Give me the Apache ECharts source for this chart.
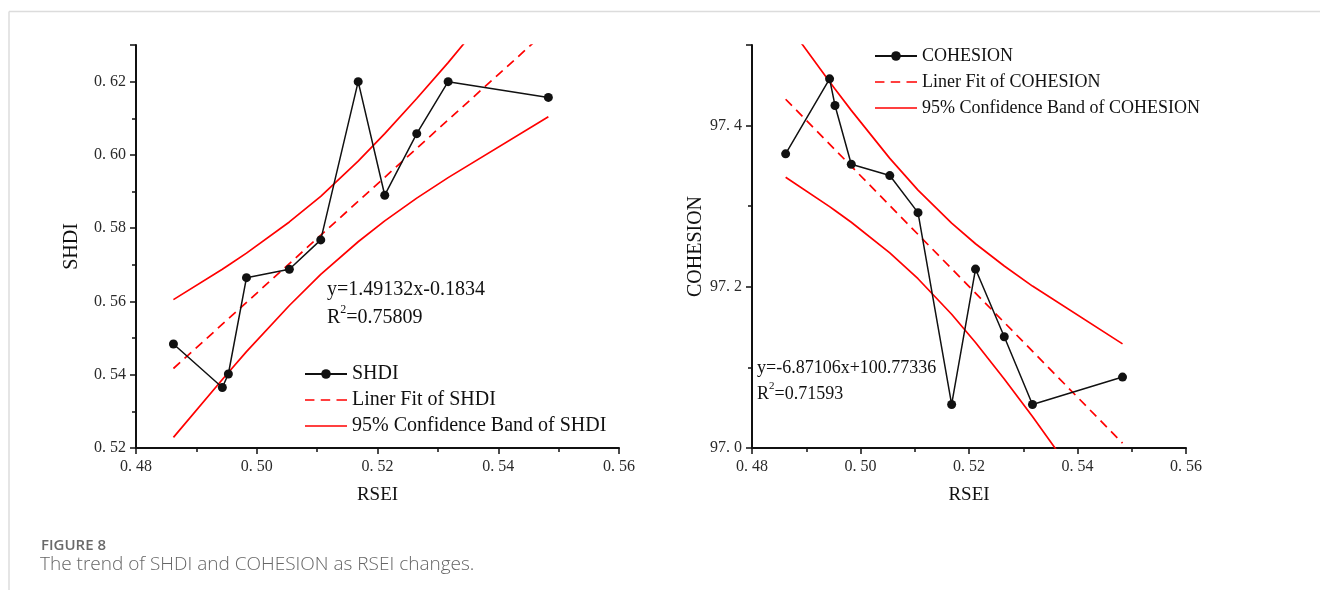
<!DOCTYPE html>
<html>
<head>
<meta charset="utf-8">
<script src="https://cdn.jsdelivr.net/npm/echarts@6/dist/echarts.min.js"></script>
<style>
  html, body { margin: 0; padding: 0; background: #fff; }
  #chart { width: 1320px; height: 590px; }
</style>
</head>
<body>
<div id="chart"></div>
<script>
// RSEI on x (same for both panels)
const rsei = [0.4862, 0.4943, 0.4953, 0.4983, 0.5054, 0.5106, 0.5168, 0.5212, 0.5265, 0.5317, 0.5483];
const shdi = [0.5484, 0.5365, 0.5402, 0.5665, 0.5688, 0.5768, 0.6200, 0.5890, 0.6058, 0.6200, 0.6157];
const cohesion = [97.365, 97.458, 97.425, 97.352, 97.338, 97.292, 97.054, 97.222, 97.138, 97.054, 97.088];

// linear fit ends and 95% band, read at the same x positions
const fitX = [0.4862, 0.5483];
const shdiFit = [0.5417, 0.6343];
const shdiUpper = [0.5605, 0.5688, 0.5699, 0.5732, 0.5817, 0.5887, 0.5983, 0.6058, 0.6154, 0.6252, 0.6582];
const shdiLower = [0.5229, 0.5387, 0.5406, 0.5463, 0.5589, 0.5674, 0.5763, 0.5820, 0.5882, 0.5938, 0.6104];
const cohFit = [97.4327, 97.0060];
const cohUpper = [97.529, 97.4545, 97.4455, 97.4189, 97.3593, 97.320, 97.2789, 97.2534, 97.2258, 97.2009, 97.1292];
const cohLower = [97.336, 97.2995, 97.2947, 97.2801, 97.2421, 97.210, 97.1659, 97.1309, 97.0857, 97.0391, 96.8828];

const xTicks = [0.48, 0.50, 0.52, 0.54, 0.56];

const serif = 'Liberation Serif';
const pairs = (xs, ys) => ys.map((y, i) => [xs[i], y]);
const spaced = d => v => v.toFixed(d).replace('.', '. ');

// legend samples: plain red line / red dashes (no marker)
const solidIcon = 'path://M0,0h40v1.6h-40z';
const dashIcon = 'path://M0,0h9v1.6h-9z M15,0h9v1.6h-9z M30,0h10v1.6h-10z';

function xAxisFor(grid) {
  return {
    type: 'value', gridIndex: grid,
    min: xTicks[0], max: xTicks[xTicks.length - 1], interval: 0.02,
    name: 'RSEI', nameLocation: 'middle', nameGap: 38,
    nameTextStyle: {fontFamily: serif, fontSize: 19, color: '#111'},
    axisLine: {lineStyle: {color: '#111', width: 2}},
    axisTick: {length: 6, lineStyle: {color: '#111', width: 1.5}},
    minorTick: {show: true, splitNumber: 2, length: 4, lineStyle: {color: '#111', width: 1.5}},
    splitLine: {show: false},
    axisLabel: {fontFamily: serif, fontSize: 16, color: '#2a2a2a', margin: 11, formatter: spaced(2)}
  };
}

function yAxisFor(grid, name, min, max, step, digits, gap) {
  return {
    type: 'value', gridIndex: grid, min, max, interval: step,
    name, nameLocation: 'middle', nameGap: gap,
    nameTextStyle: {fontFamily: serif, fontSize: 20, color: '#111'},
    axisLine: {lineStyle: {color: '#111', width: 2}},
    axisTick: {length: 6, lineStyle: {color: '#111', width: 1.5}},
    minorTick: {show: true, splitNumber: 2, length: 4, lineStyle: {color: '#111', width: 1.5}},
    splitLine: {show: false},
    axisLabel: {fontFamily: serif, fontSize: 16, color: '#2a2a2a', margin: 10, showMaxLabel: false, formatter: spaced(digits)}
  };
}

function panel(idx, name, ys, fit, upper, lower) {
  const band = '95% Confidence Band of ' + name;
  const red = {color: '#ff0000', width: 1.7};
  return [
    {name: band, type: 'line', xAxisIndex: idx, yAxisIndex: idx, data: pairs(rsei, upper),
      symbol: 'none', lineStyle: red, itemStyle: {color: '#ff0000'}},
    {name: band, type: 'line', xAxisIndex: idx, yAxisIndex: idx, data: pairs(rsei, lower),
      symbol: 'none', lineStyle: red, itemStyle: {color: '#ff0000'}},
    {name: 'Liner Fit of ' + name, type: 'line', xAxisIndex: idx, yAxisIndex: idx, data: pairs(fitX, fit),
      symbol: 'none', lineStyle: {color: '#ff0000', width: 1.7, type: [9, 6]}, itemStyle: {color: '#ff0000'}},
    {name, type: 'line', xAxisIndex: idx, yAxisIndex: idx, data: pairs(rsei, ys),
      symbol: 'circle', symbolSize: 9, lineStyle: {color: '#111', width: 1.5}, itemStyle: {color: '#111'}}
  ];
}

function legendFor(name, left, top, size, gap) {
  return {
    orient: 'vertical', left, top, itemWidth: 42, itemHeight: 12, itemGap: gap,
    selectedMode: false,
    textStyle: {fontFamily: serif, fontSize: size, color: '#111', padding: [0, 0, 0, 0]},
    data: [
      {name},
      {name: 'Liner Fit of ' + name, icon: dashIcon},
      {name: '95% Confidence Band of ' + name, icon: solidIcon}
    ]
  };
}

function equation(left, top, formula, r2, size) {
  return {
    type: 'text', left, top,
    style: {
      text: '{t|' + formula + '}\n{t|R}{s|2}{t|=' + r2 + '}',
      rich: {
        t: {fontFamily: serif, fontSize: size, fill: '#111', lineHeight: size + 8},
        s: {fontFamily: serif, fontSize: Math.round(size * 0.62), fill: '#111', verticalAlign: 'top', lineHeight: size + 2}
      }
    }
  };
}

const chart = echarts.init(document.getElementById('chart'));
chart.setOption({
  animation: false,
  backgroundColor: '#fff',
  grid: [
    {left: 136, top: 45, width: 483, height: 403},
    {left: 752, top: 45, width: 434, height: 403}
  ],
  xAxis: [xAxisFor(0), xAxisFor(1)],
  yAxis: [
    yAxisFor(0, 'SHDI', 0.52, 0.63, 0.02, 2, 54),
    yAxisFor(1, 'COHESION', 97.0, 97.5, 0.2, 1, 43)
  ],
  legend: [
    legendFor('SHDI', 299, 359, 20, 6),
    legendFor('COHESION', 869, 42, 18, 8)
  ],
  series: [
    ...panel(0, 'SHDI', shdi, shdiFit, shdiUpper, shdiLower),
    ...panel(1, 'COHESION', cohesion, cohFit, cohUpper, cohLower)
  ],
  graphic: [
    {type: 'line', shape: {x1: 9, y1: 11.5, x2: 1320, y2: 11.5}, style: {stroke: '#dcdcdc', lineWidth: 1.5}},
    {type: 'line', shape: {x1: 9, y1: 11.5, x2: 9, y2: 590}, style: {stroke: '#dcdcdc', lineWidth: 1.5}},
    equation(327, 280, 'y=1.49132x-0.1834', '0.75809', 20),
    equation(757, 359, 'y=-6.87106x+100.77336', '0.71593', 18),
    {type: 'text', left: 41, top: 538, style: {text: 'FIGURE 8', fontFamily: 'Open Sans', fontWeight: 600, fontSize: 15, fill: '#6a6a6a'}},
    {type: 'text', left: 40, top: 555, style: {text: 'The trend of SHDI and COHESION as RSEI changes.', fontFamily: 'Open Sans', fontWeight: 300, fontSize: 19, fill: '#666'}}
  ]
});
</script>
</body>
</html>
